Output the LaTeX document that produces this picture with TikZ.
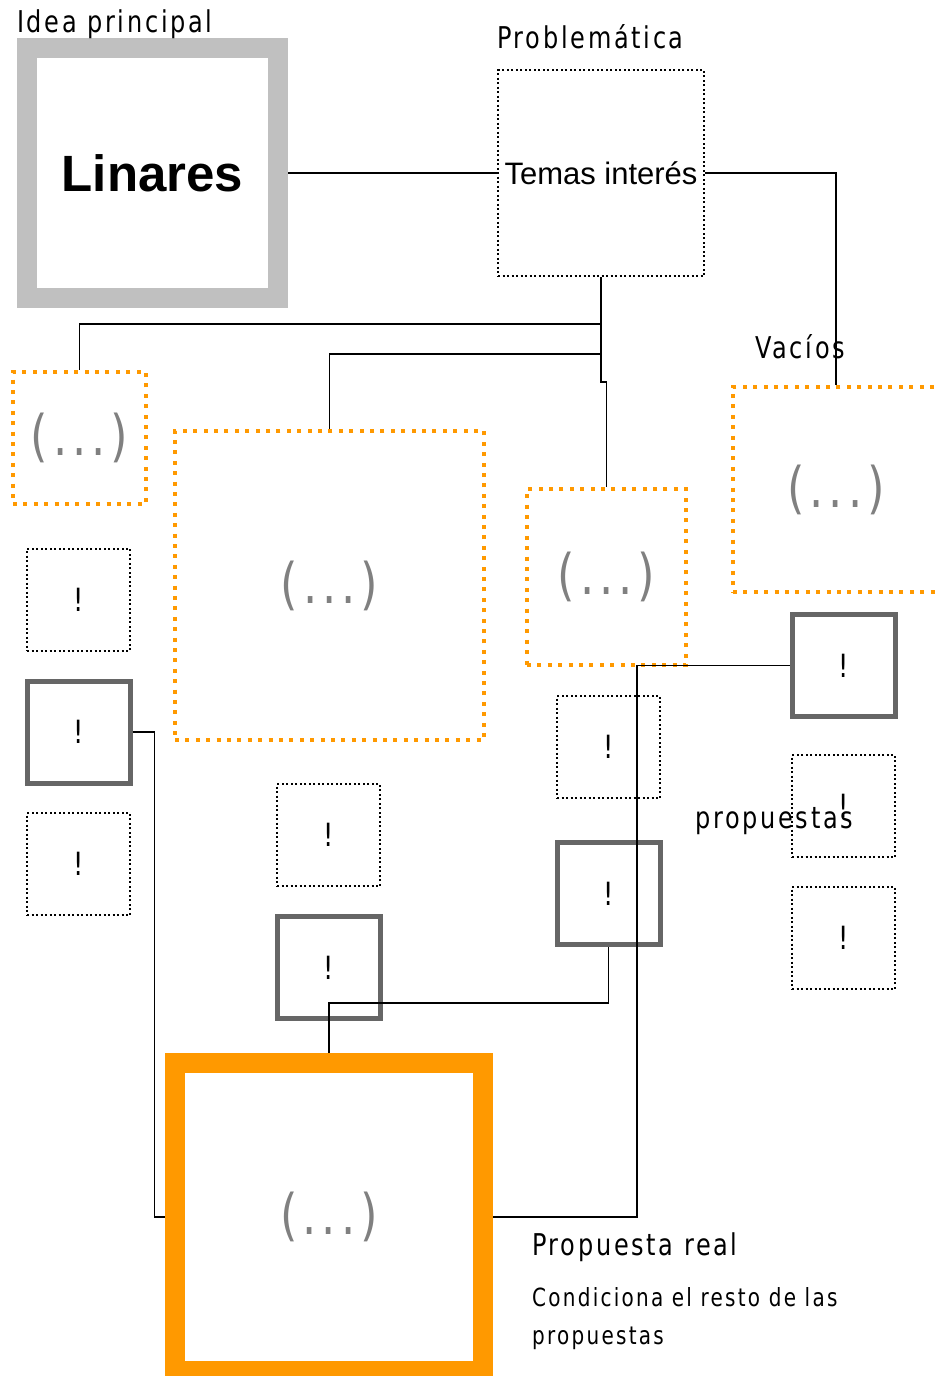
\documentclass[tikz,border=0pt]{standalone}
\usepackage{fontspec}
\usepackage{tikz}
\usetikzlibrary{positioning}
\newfontfamily\isofont{DejaVu Sans}[FakeStretch=0.8, LetterSpace=9]
\newfontfamily\arialfont{Liberation Sans}
\definecolor{naranja}{HTML}{FF9900}
\definecolor{grisclaro}{HTML}{C0C0C0}
\definecolor{grisoscuro}{HTML}{666666}
\definecolor{grispunto}{HTML}{808080}

\begin{document}
\begin{tikzpicture}[x=1pt, y=-1pt]
  \tikzstyle{idea}=[rectangle, draw=grisclaro, line width=20pt, inner sep=0pt, minimum width=251pt, minimum height=250pt]
  \tikzstyle{tema}=[rectangle, draw=black, line width=2pt, dash pattern=on 2pt off 2.5pt, inner sep=0pt]
  \tikzstyle{vacio}=[rectangle, draw=naranja, line width=4pt, dash pattern=on 4pt off 6.4pt, inner sep=0pt, text=grispunto, font=\isofont\fontsize{56}{56}\selectfont]
  \tikzstyle{aviso}=[rectangle, draw=black, line width=2pt, dash pattern=on 2pt off 2.5pt, inner sep=0pt, minimum width=103pt, minimum height=102pt, font=\isofont\fontsize{32}{32}\selectfont]
  \tikzstyle{clave}=[rectangle, draw=grisoscuro, line width=5pt, inner sep=0pt, minimum width=103pt, minimum height=102pt, font=\isofont\fontsize{32}{32}\selectfont]
  \tikzstyle{real}=[rectangle, draw=naranja, line width=20pt, inner sep=0pt, minimum width=308pt, minimum height=308pt, text=grispunto, font=\isofont\fontsize{56}{56}\selectfont]
  \tikzstyle{rotulo}=[anchor=base west, inner sep=0pt, font=\isofont\fontsize{30}{30}\selectfont]
  \tikzstyle{connect}=[line width=1.5pt]
  \useasboundingbox (0,0) rectangle (935,1376);
    \node[idea] (linares) at (152.5,173) {\arialfont\bfseries\fontsize{51}{51}\selectfont Linares};
    \node[tema, minimum width=206pt, minimum height=206pt] (temas) at (601,173) {\arialfont\fontsize{31}{31}\selectfont Temas interés};
    \node[vacio, minimum width=133pt, minimum height=132pt] (vA) at (79.5,438) {(...)};
    \node[vacio, minimum width=309pt, minimum height=309pt] (vB) at (329.5,585.5) {(...)};
    \node[vacio, minimum width=159pt, minimum height=176pt] (vC) at (606.5,577) {(...)};
    \node[vacio, minimum width=206pt, minimum height=205pt] (vD) at (836,489.5) {(...)};
    % avisos
    \node[aviso] (a1) at (78.5,599.5) {!};
    \node[clave] (k1) at (78.5,732) {!};
    \node[aviso] (a2) at (78.5,864) {!};
    \node[aviso] (a3) at (328.5,835) {!};
    \node[clave] (k2) at (329,967.5) {!};
    \node[aviso] (a4) at (608.5,747) {!};
    \node[clave] (k3) at (608.5,893.5) {!};
    \node[clave] (k4) at (844,665.5) {!};
    \node[aviso] (a5) at (843.5,806) {!};
    \node[aviso] (a6) at (843.5,938) {!};
    \node[real] (real) at (329,1217) {(...)};
    % rotulos
    \node[rotulo] (tidea) at (17,32) {Idea principal};
    \node[rotulo] (tprob) at (497,48) {Problemática};
    \node[rotulo] (tvac) at (755,358) {Vacíos};
    \node[rotulo] (tprop) at (695,828) {propuestas};
    \node[rotulo] (treal) at (532,1255) {Propuesta real};
    \node[anchor=north west, inner sep=0pt, align=left, font=\isofont\fontsize{25}{38}\selectfont] (tcond) at (532,1287) {Condiciona el resto de las\\propuestas};
    % conexiones
    \draw[connect] (linares.east) -- (temas.west);
    \draw[connect] (temas.east) -| (vD.north);
    \draw[connect] (temas.south) -- ++(0,47) -| (vA.north);
    \draw[connect] (temas.south) -- ++(0,77) -| (vB.north);
    \draw[connect] (temas.south) -- ++(0,105) -| (vC.north);
    \draw[connect] (k1.east) -- ++(22,0) |- (real.west);
    \draw[connect] (real.north) -- ++(0,-50) -| (k3.south);
    \draw[connect] (real.east) -- ++(144,0) |- (k4.west);
  \end{tikzpicture}
\end{document}
